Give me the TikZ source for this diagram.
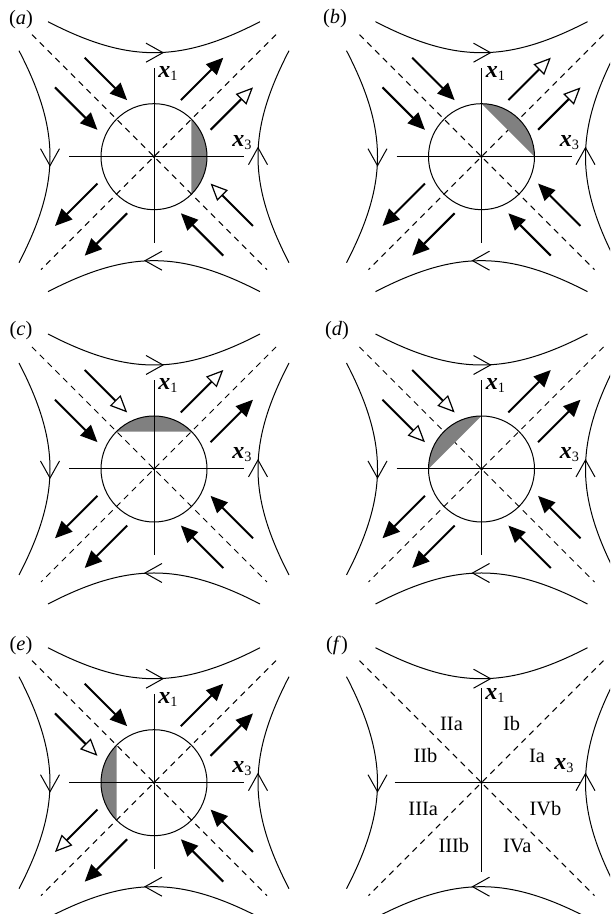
\documentclass[tikz,border=0pt]{standalone}
\usepackage{fontspec}
\setmainfont{Liberation Serif}
\usetikzlibrary{arrows.meta}
\tikzset{curve/.style={line width=0.5pt},
         diag/.style={line width=0.5pt,dash pattern=on 3pt off 2.5pt},
         axis/.style={line width=0.5pt},
         farr/.style={line width=1pt,-{Triangle[length=8.5pt,width=7.5pt]}},
         oarr/.style={line width=1pt,-{Triangle[open,length=8.5pt,width=7.5pt,line width=0.6pt,fill=white]}},
         capfill/.style={fill=black!50},
         lab/.style={font=\fontsize{10.2}{12}\selectfont,inner sep=0pt}}
% hyperbolic streamlines and the two dashed diagonals of one panel
\newcommand\flowbg{%
  \foreach \a/\s in {0/1,90/-1,180/1,270/-1}{
    \begin{scope}[rotate=\a]
      \draw[curve] plot[domain=-106:106,samples=41,smooth] (\x,{100*sqrt(1.0816+0.6594*(\x/100)^2)});
      \draw[curve] (-8*\s,113.5) -- (9*\s,104) -- (-8*\s,94.5);
    \end{scope}}
  \draw[diag] (-122,122) -- (113,-113);
  \draw[diag] (122,122) -- (-113,-113);}
% two arrows along one diagonal: angle, from, to, style left side, style right side
\newcommand\flowpair[5]{%
  \begin{scope}[rotate=#1]
    \draw[#4] (#2,21) -- (#3,21);
    \draw[#5] (#2,-21) -- (#3,-21);
  \end{scope}}
\newcommand\xlabels{%
  \node[lab] (x1) at (14.5,83) {\textbf{\textit{\large x}}\textsubscript{1}};
  \node[lab] (x3) at (88.5,14) {\textbf{\textit{\large x}}\textsubscript{3}};}

\begin{document}
\begin{tikzpicture}[x=0.5pt,y=0.5pt]
 \useasboundingbox (0,0) rectangle (610,914);
 \clip (0,0) rectangle (610,914);
 % (a)
 \node[lab] (la) at (21,894.5) {(\textit{a})};
 \begin{scope}[shift={(154,757.3)}]
  \flowbg
  \fill[capfill] (-45:53) arc[start angle=-45,end angle=45,radius=53] -- cycle;
  \draw[axis] (-85,0) -- (90,0) (0,-86) -- (0,89);
  \draw[curve] (0,0) circle (53);
  \fill (0,0) circle (1.5);
  \flowpair{45}{59}{119}{farr}{oarr}
  \flowpair{135}{119}{59}{farr}{farr}
  \flowpair{225}{59}{119}{farr}{farr}
  \flowpair{315}{119}{59}{oarr}{farr}
  \xlabels
 \end{scope}
 % (b)
 \node[lab] (lb) at (335,895) {(\textit{b})};
 \begin{scope}[shift={(481.5,757.3)}]
  \flowbg
  \fill[capfill] (0:53) arc[start angle=0,end angle=90,radius=53] -- cycle;
  \draw[axis] (-85,0) -- (90,0) (0,-86) -- (0,89);
  \draw[curve] (0,0) circle (53);
  \fill (0,0) circle (1.5);
  \flowpair{45}{59}{119}{oarr}{oarr}
  \flowpair{135}{119}{59}{farr}{farr}
  \flowpair{225}{59}{119}{farr}{farr}
  \flowpair{315}{119}{59}{farr}{farr}
  \xlabels
 \end{scope}
 % (c)
 \node[lab] (lc) at (21,583) {(\textit{c})};
 \begin{scope}[shift={(154,445)}]
  \flowbg
  \fill[capfill] (45:53) arc[start angle=45,end angle=135,radius=53] -- cycle;
  \draw[axis] (-85,0) -- (90,0) (0,-86) -- (0,89);
  \draw[curve] (0,0) circle (53);
  \fill (0,0) circle (1.5);
  \flowpair{45}{59}{119}{oarr}{farr}
  \flowpair{135}{119}{59}{farr}{oarr}
  \flowpair{225}{59}{119}{farr}{farr}
  \flowpair{315}{119}{59}{farr}{farr}
  \xlabels
 \end{scope}
 % (d)
 \node[lab] (ld) at (337,583) {(\textit{d})};
 \begin{scope}[shift={(481.5,445)}]
  \flowbg
  \fill[capfill] (90:53) arc[start angle=90,end angle=180,radius=53] -- cycle;
  \draw[axis] (-85,0) -- (90,0) (0,-86) -- (0,89);
  \draw[curve] (0,0) circle (53);
  \fill (0,0) circle (1.5);
  \flowpair{45}{59}{119}{farr}{farr}
  \flowpair{135}{119}{59}{oarr}{oarr}
  \flowpair{225}{59}{119}{farr}{farr}
  \flowpair{315}{119}{59}{farr}{farr}
  \xlabels
 \end{scope}
 % (e)
 \node[lab] (le) at (21,268.5) {(\textit{e})};
 \begin{scope}[shift={(154,131.3)}]
  \flowbg
  \fill[capfill] (135:53) arc[start angle=135,end angle=225,radius=53] -- cycle;
  \draw[axis] (-85,0) -- (90,0) (0,-86) -- (0,89);
  \draw[curve] (0,0) circle (53);
  \fill (0,0) circle (1.5);
  \flowpair{45}{59}{119}{farr}{farr}
  \flowpair{135}{119}{59}{oarr}{farr}
  \flowpair{225}{59}{119}{farr}{oarr}
  \flowpair{315}{119}{59}{farr}{farr}
  \xlabels
 \end{scope}
 % (f)
 \node[lab] (lf) at (337,269) {(\textit{f})};
 \begin{scope}[shift={(481.5,131.3)}]
  \flowbg
  \draw[axis] (-87,0) -- (98,0) (0,-89) -- (0,95);
  \fill (0,0) circle (1.5);
  \node[lab] (x1f) at (14,87) {\textbf{\textit{\large x}}\textsubscript{1}};
  \node[lab] (x3f) at (83,17) {\textbf{\textit{\large x}}\textsubscript{3}};
  \node[lab] (IIa) at (-30,58.7) {IIa};
  \node[lab] (Ib) at (30,58.7) {Ib};
  \node[lab] (IIb) at (-56,26.7) {IIb};
  \node[lab] (Ia) at (55.6,26.7) {Ia};
  \node[lab] (IIIa) at (-58.3,-26.3) {IIIa};
  \node[lab] (IVb) at (64,-26.3) {IVb};
  \node[lab] (IIIb) at (-27.7,-63.3) {IIIb};
  \node[lab] (IVa) at (35.7,-63.3) {IVa};
 \end{scope}
\end{tikzpicture}
\end{document}
